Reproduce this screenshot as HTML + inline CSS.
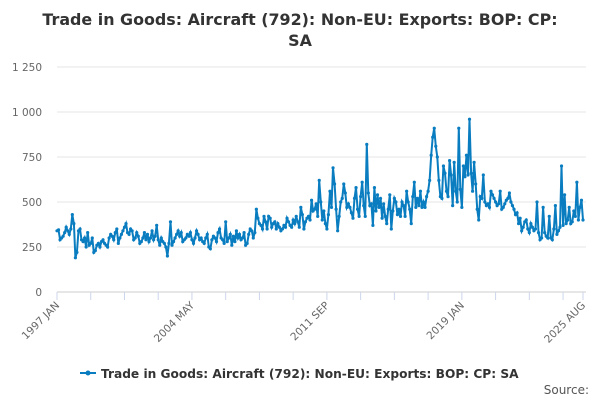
<!DOCTYPE html>
<html><head><meta charset="utf-8"><style>
body{margin:0;background:#fff;font-family:"DejaVu Sans",sans-serif;}
</style></head><body>
<svg width="600" height="400" xmlns="http://www.w3.org/2000/svg" font-family="DejaVu Sans, sans-serif">
<text x="300" y="25" text-anchor="middle" font-size="15.9" font-weight="bold" fill="#333">Trade in Goods: Aircraft (792): Non-EU: Exports: BOP: CP:</text>
<text x="300" y="46" text-anchor="middle" font-size="15.9" font-weight="bold" fill="#333">SA</text>
<g id="grid"></g><g id="xaxis"></g><g id="series"></g>
<g>
<line x1="80" y1="373" x2="96" y2="373" stroke="#0a7dc0" stroke-width="2"/>
<circle cx="88" cy="373" r="2.5" fill="#0a7dc0"/>
<text x="101" y="378" font-size="12.2" font-weight="bold" fill="#333">Trade in Goods: Aircraft (792): Non-EU: Exports: BOP: CP: SA</text>
</g>
<text x="589" y="394" text-anchor="end" font-size="12" fill="#555">Source:</text>
</svg>
<script>
const yTicks=[0,250,500,750,1000,1250];
const yTickLabels=["0","250","500","750","1 000","1 250"];
const xLabels=["1997 JAN","2004 MAY","2011 SEP","2019 JAN","2025 AUG"];
const xLabelIdx=[0,88,176,264,343];
const values=[
340,345,290,300,310,330,360,340,320,350,430,380,
190,220,340,350,290,280,300,250,330,260,270,300,
220,230,260,270,250,280,290,270,260,250,300,320,
310,290,330,350,270,300,320,340,360,380,330,320,
350,340,290,300,330,310,270,280,300,330,290,320,
280,300,340,290,310,370,290,260,300,280,270,250,
200,270,390,260,280,300,320,340,310,330,280,290,
300,320,310,330,290,270,300,340,320,290,300,280,
270,300,320,250,240,290,310,300,280,330,350,300,
290,270,390,280,300,320,260,310,280,340,300,320,
290,300,330,260,270,320,350,340,300,330,460,410,
380,370,350,420,390,350,420,410,360,380,390,350,
380,360,340,350,370,360,410,390,370,360,400,380,
420,390,360,470,430,350,390,410,420,400,510,450,
460,490,420,620,500,400,450,380,350,430,560,470,
690,600,460,340,420,500,520,600,550,470,490,470,
440,410,520,580,460,420,530,610,480,420,820,550,
480,490,370,580,450,540,470,520,410,490,420,380,
460,540,350,450,520,500,430,460,420,500,480,420,
560,500,460,380,530,610,470,520,480,560,470,500,
470,530,560,620,760,860,910,810,750,620,530,520,
700,660,560,530,730,650,480,720,560,500,910,570,
470,700,640,760,650,960,660,560,720,600,460,400,
530,520,650,500,480,490,470,560,540,520,500,480,
490,560,460,470,490,510,520,550,500,480,460,430,
440,380,410,340,360,390,400,350,330,380,360,340,
350,500,330,290,300,470,330,310,300,420,300,290,
350,480,320,340,360,700,370,540,380,400,470,380,
390,450,420,610,400,470,510,400];
const NS="http://www.w3.org/2000/svg";
const X0=57,X1=583,Y0=292,YK=0.18;
const xs=i=>X0+(X1-X0)*i/(values.length-1);
const ys=v=>Y0-v*YK;
function mk(t,a,p){const e=document.createElementNS(NS,t);for(const k in a)e.setAttribute(k,a[k]);p.appendChild(e);return e;}
const grid=document.getElementById('grid');
yTicks.forEach((v,i)=>{
 const l=mk('line',{x1:X0,x2:X1+3,y1:ys(v),y2:ys(v),stroke:v===0?'#ccc':'#e6e6e6'},grid);
 
 
 const t=mk('text',{x:42,y:ys(v)+4,'text-anchor':'end','font-size':10.5,fill:'#666'},grid);
 t.textContent=yTickLabels[i];
 
 
});
const xa=document.getElementById('xaxis');
for(let i=0;i<values.length;i+=22){
 const tk=mk('line',{x1:xs(i),x2:xs(i),y1:Y0,y2:Y0+8,stroke:'#ccd6eb'},xa);
 
 
}
const tl=mk('line',{x1:X1,x2:X1,y1:Y0,y2:Y0+8,stroke:'#ccd6eb'},xa);


xLabels.forEach((s,k)=>{
 const x=xs(xLabelIdx[k]);
 const t=mk('text',{x:x+3,y:Y0+14,'text-anchor':'end','font-size':10.5,fill:'#666',transform:`rotate(-45 ${x+3} ${Y0+14})`},xa);
 t.textContent=s;
 
 
});
const sg=document.getElementById('series');
const p=mk('path',{d:values.map((v,i)=>(i?'L':'M')+xs(i).toFixed(1)+','+ys(v).toFixed(1)).join(''),fill:'none',stroke:'#0a7dc0','stroke-width':2},sg);


values.forEach((v,i)=>{
 const c=mk('circle',{cx:xs(i),cy:ys(v),r:1.6,fill:'#0a7dc0'},sg);
 
 
});
</script>
</body></html>
